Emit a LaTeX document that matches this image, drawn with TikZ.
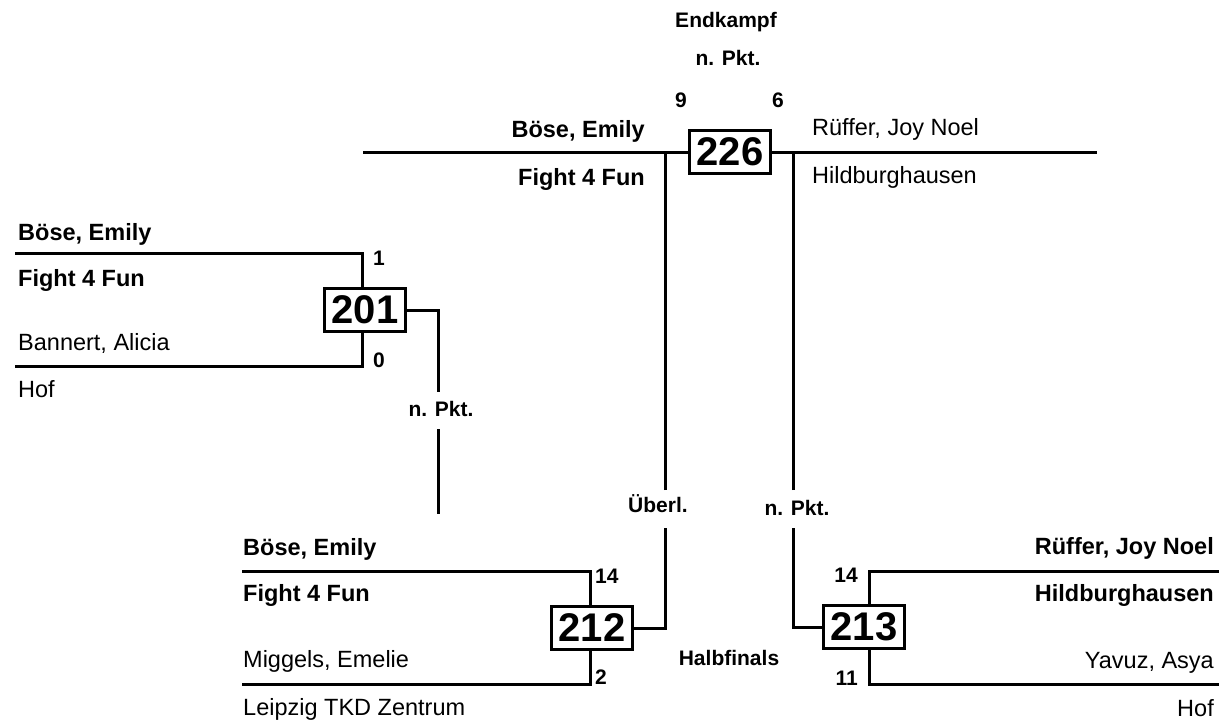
\documentclass[tikz,border=0pt]{standalone}
\usepackage{fontspec}
\setmainfont{Liberation Sans}
\begin{document}
\begin{tikzpicture}[x=1pt,y=-1pt,
  wire/.style={line width=3pt, line join=miter},
  mbox/.style={draw, line width=3pt, minimum width=81pt, minimum height=43pt, inner sep=0pt,
     font=\fontsize{40}{40}\selectfont\bfseries},
  nm/.style={font=\fontsize{23.5}{26}\selectfont, inner sep=0pt},
  nmb/.style={font=\fontsize{23.5}{26}\selectfont\bfseries, inner sep=0pt},
  lab/.style={font=\fontsize{21}{24}\selectfont\bfseries, inner sep=0pt}]
\useasboundingbox (0,0) rectangle (1219,724);

% ---------- final 226 ----------
\node[lab, anchor=base] (endk) at (726,27) {Endkampf};
\node[lab, anchor=base] (fpkt) at (728,65) {n. Pkt.};
\node[lab, anchor=base west] (f9) at (675,107) {9};
\node[lab, anchor=base west] (f6) at (772,107) {6};
\node[nmb, anchor=base east] (fn1) at (645,137) {Böse, Emily};
\node[nmb, anchor=base east] (fc1) at (645,185) {Fight 4 Fun};
\node[nm, anchor=base west] (fn2) at (812,135) {Rüffer, Joy Noel};
\node[nm, anchor=base west] (fc2) at (812,183) {Hildburghausen};
\node[mbox] (b226) at (730,152) {226};
\coordinate (fl) at (363,152);
\coordinate (fr) at (1097,152);
\draw[wire] (fl) -- (b226.west);
\draw[wire] (b226.east) -- (fr);

% ---------- match 201 ----------
\node[nmb, anchor=base west] (a1) at (18,240) {Böse, Emily};
\node[nmb, anchor=base west] (a2) at (18,286) {Fight 4 Fun};
\node[nm, anchor=base west] (a3) at (18,350) {Bannert, Alicia};
\node[nm, anchor=base west] (a4) at (18,397) {Hof};
\node[lab, anchor=base west] (a5) at (373,265) {1};
\node[lab, anchor=base west] (a6) at (373,367) {0};
\node[mbox] (b201) at (365,310) {201};
\coordinate (a1l) at (15,253);
\coordinate (a1c) at (362,253);
\coordinate (a2l) at (15,366);
\coordinate (a2c) at (362,366);
\draw[wire] (a1l) -- (a1c) -- (a1c |- b201.north);
\draw[wire] (a2l) -- (a2c) -- (a2c |- b201.south);
\coordinate (ao1) at (438,310);
\coordinate (ao2) at (438,392);
\coordinate (ao3) at (438,429);
\coordinate (ao4) at (438,514);
\node[lab, anchor=base] (apkt) at (441,416) {n. Pkt.};
\draw[wire] (b201.east) -- (ao1) -- (ao2);
\draw[wire] (ao3) -- (ao4);

% ---------- match 212 ----------
\node[nmb, anchor=base west] (c1) at (243,555) {Böse, Emily};
\node[nmb, anchor=base west] (c2) at (243,601) {Fight 4 Fun};
\node[nm, anchor=base west] (c3) at (243,667) {Miggels, Emelie};
\node[nm, anchor=base west] (c4) at (243,715) {Leipzig TKD Zentrum};
\node[lab, anchor=base west] (c5) at (595,583) {14};
\node[lab, anchor=base west] (c6) at (595,684) {2};
\node[mbox] (b212) at (592,628) {212};
\coordinate (c1l) at (242,571);
\coordinate (c1c) at (590,571);
\coordinate (c2l) at (242,684);
\coordinate (c2c) at (590,684);
\draw[wire] (c1l) -- (c1c) -- (c1c |- b212.north);
\draw[wire] (c2l) -- (c2c) -- (c2c |- b212.south);
\coordinate (co1) at (665,628);
\coordinate (co2) at (665,528);
\coordinate (co3) at (665,490);
\node[lab, anchor=base] (cub) at (658,512) {Überl.};
\draw[wire] (b212.east) -- (co1) -- (co2);
\draw[wire] (co3) -- (co3 |- fl);

% ---------- match 213 ----------
\node[nmb, anchor=base east] (d1) at (1214,554) {Rüffer, Joy Noel};
\node[nmb, anchor=base east] (d2) at (1214,601) {Hildburghausen};
\node[nm, anchor=base east] (d3) at (1214,668) {Yavuz, Asya};
\node[nm, anchor=base east] (d4) at (1214,716) {Hof};
\node[lab, anchor=base east] (d5) at (858,582) {14};
\node[lab, anchor=base east] (d6) at (858,685) {11};
\node[mbox] (b213) at (864,627) {213};
\coordinate (d1r) at (1219,571);
\coordinate (d1c) at (869,571);
\coordinate (d2r) at (1219,684);
\coordinate (d2c) at (869,684);
\draw[wire] (d1r) -- (d1c) -- (d1c |- b213.north);
\draw[wire] (d2r) -- (d2c) -- (d2c |- b213.south);
\coordinate (do1) at (793,627);
\coordinate (do2) at (793,528);
\coordinate (do3) at (793,490);
\node[lab, anchor=base] (dpkt) at (797,515) {n. Pkt.};
\draw[wire] (b213.west) -- (do1) -- (do2);
\draw[wire] (do3) -- (do3 |- fr);

\node[lab, anchor=base] (halb) at (729,665) {Halbfinals};
\end{tikzpicture}
\end{document}
